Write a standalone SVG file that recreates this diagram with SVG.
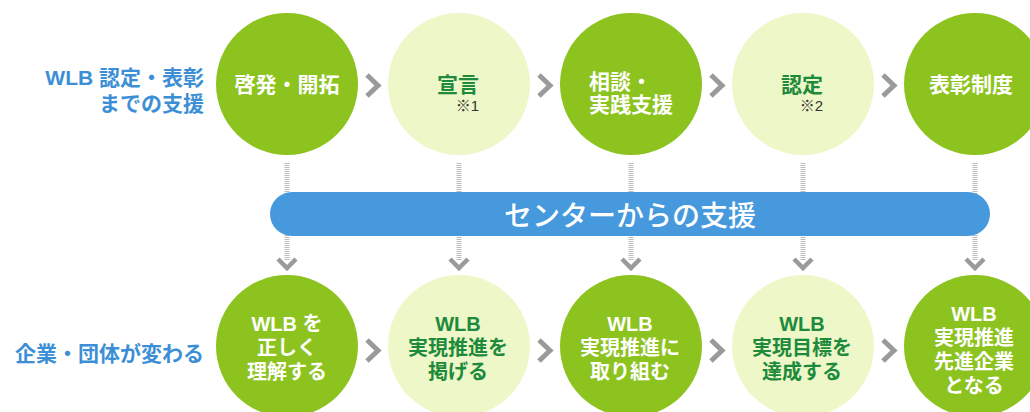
<svg xmlns="http://www.w3.org/2000/svg" width="1030" height="412" viewBox="0 0 1030 412">
<style>
  text { font-family: "Liberation Sans", "Noto Sans CJK JP", sans-serif; font-weight: bold; }
  .dark { fill: #8cc31f; }
  .light { fill: #eef7c8; }
  .wt { fill: #ffffff; font-size: 21px; text-anchor: middle; }
  .gt { fill: #1d8a3c; font-size: 21px; text-anchor: middle; }
  .wb { fill: #ffffff; font-size: 20px; text-anchor: middle; }
  .gb { fill: #1d8a3c; font-size: 20px; text-anchor: middle; }
  .note { fill: #333333; font-size: 15px; text-anchor: end; font-weight: normal; }
  .lbl { fill: #3c8fd6; font-size: 21px; text-anchor: end; }
  .chev { fill: none; stroke: #9a9a9a; stroke-width: 5; stroke-linejoin: miter; }
  .dots { stroke: #bcbcbc; stroke-width: 5; stroke-dasharray: 1 1; }
  .down { fill: none; stroke: #9a9a9a; stroke-width: 4.5; stroke-linejoin: miter; }
</style>

<g id="labels">
  <text class="lbl" x="204" y="85">WLB 認定・表彰</text>
  <text class="lbl" x="204" y="111">までの支援</text>
  <text class="lbl" x="204" y="361">企業・団体が変わる</text>
</g>

<g id="connectors">
  <line class="dots" x1="287" y1="163" x2="287" y2="260"/>
  <line class="dots" x1="459" y1="163" x2="459" y2="260"/>
  <line class="dots" x1="631" y1="163" x2="631" y2="260"/>
  <line class="dots" x1="803" y1="163" x2="803" y2="260"/>
  <line class="dots" x1="975" y1="163" x2="975" y2="260"/>
  <polyline class="down" points="278,259 287,268 296,259"/>
  <polyline class="down" points="450,259 459,268 468,259"/>
  <polyline class="down" points="622,259 631,268 640,259"/>
  <polyline class="down" points="794,259 803,268 812,259"/>
  <polyline class="down" points="966,259 975,268 984,259"/>
  <polyline class="chev" points="367,75 378,85.5 367,96"/>
  <polyline class="chev" points="539,75 550,85.5 539,96"/>
  <polyline class="chev" points="711,75 722,85.5 711,96"/>
  <polyline class="chev" points="883,75 894,85.5 883,96"/>
  <polyline class="chev" points="367,340 378,350.5 367,361"/>
  <polyline class="chev" points="539,340 550,350.5 539,361"/>
  <polyline class="chev" points="711,340 722,350.5 711,361"/>
  <polyline class="chev" points="883,340 894,350.5 883,361"/>
</g>

<g id="bar">
  <rect x="270" y="192" width="720" height="44" rx="22" fill="#4699dd"/>
  <text x="630" y="226" fill="#ffffff" font-size="28" text-anchor="middle" style="font-weight:500">センターからの支援</text>
</g>

<g id="n-keihatsu">
  <circle class="dark" cx="287" cy="84" r="71"/>
  <text class="wt" x="287" y="92">啓発・開拓</text>
</g>
<g id="n-sengen">
  <circle class="light" cx="459" cy="84" r="71"/>
  <text class="gt" x="458" y="92">宣言</text>
  <text class="note" x="479" y="111">※1</text>
</g>
<g id="n-soudan">
  <circle class="dark" cx="631" cy="84" r="71"/>
  <text class="wt" x="589" y="89" style="text-anchor:start">相談・</text>
  <text class="wt" x="631" y="112">実践支援</text>
</g>
<g id="n-nintei">
  <circle class="light" cx="803" cy="84" r="71"/>
  <text class="gt" x="802" y="92">認定</text>
  <text class="note" x="823" y="111">※2</text>
</g>
<g id="n-hyoushou">
  <circle class="dark" cx="975" cy="84" r="71"/>
  <text class="wt" x="971" y="92">表彰制度</text>
</g>

<g id="n-rikai">
  <circle class="dark" cx="287" cy="346" r="71"/>
  <text class="wb" x="287" y="331">WLB を</text>
  <text class="wb" x="287" y="355">正しく</text>
  <text class="wb" x="287" y="379">理解する</text>
</g>
<g id="n-kakageru">
  <circle class="light" cx="459" cy="346" r="71"/>
  <text class="gb" x="458" y="331">WLB</text>
  <text class="gb" x="458" y="355">実現推進を</text>
  <text class="gb" x="458" y="379">掲げる</text>
</g>
<g id="n-torikumu">
  <circle class="dark" cx="631" cy="346" r="71"/>
  <text class="wb" x="630" y="331">WLB</text>
  <text class="wb" x="630" y="355">実現推進に</text>
  <text class="wb" x="630" y="379">取り組む</text>
</g>
<g id="n-tassei">
  <circle class="light" cx="803" cy="346" r="71"/>
  <text class="gb" x="802" y="331">WLB</text>
  <text class="gb" x="802" y="355">実現目標を</text>
  <text class="gb" x="802" y="379">達成する</text>
</g>
<g id="n-senshin">
  <circle class="dark" cx="975" cy="346" r="71"/>
  <text class="wb" x="974" y="321">WLB</text>
  <text class="wb" x="974" y="345">実現推進</text>
  <text class="wb" x="974" y="369">先進企業</text>
  <text class="wb" x="974" y="393">となる</text>
</g>
</svg>
